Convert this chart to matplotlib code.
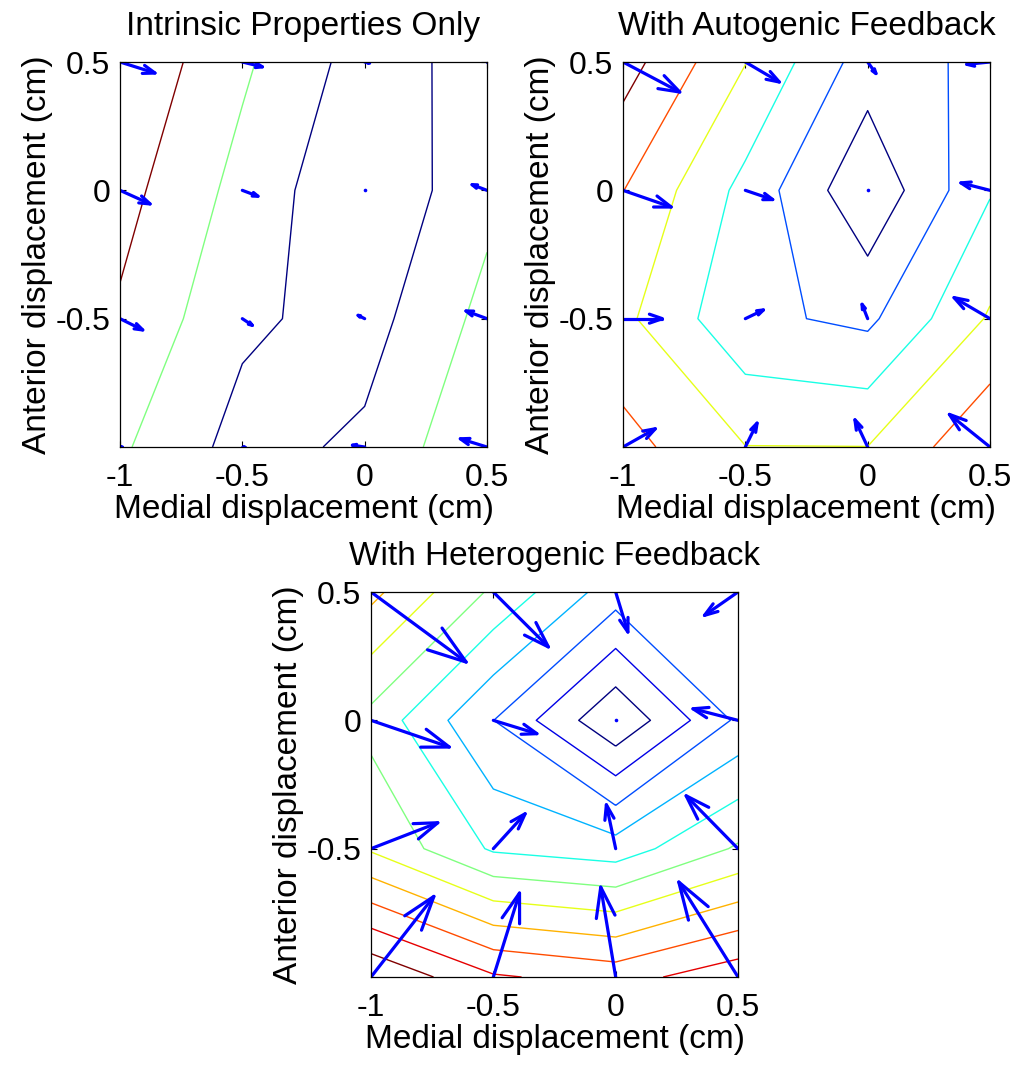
import numpy as np
import matplotlib
matplotlib.use('Agg')
import matplotlib.pyplot as plt

plt.rcParams['font.family'] = ['Liberation Sans', 'DejaVu Sans']

# grid of positions (cm)
xs = [-1.0, -0.5, 0.0, 0.5]
ys = [-1.0, -0.5, 0.0, 0.5]

x_ticks = [-1.0, -0.5, 0.0, 0.5]
x_labels = ['-1', '-0.5', '0', '0.5']
y_ticks = [-0.5, 0.0, 0.5]
y_labels = ['-0.5', '0', '0.5']

titles = ['Intrinsic Properties Only', 'With Autogenic Feedback', 'With Heterogenic Feedback']

# potential field (rows: y = -1 .. 0.5, cols: x = -1 .. 0.5), in contour-level units
z_intrinsic = [[2.15, 0.63, 1.19, 2.88],
               [2.86, 1.20, 0.59, 2.30],
               [3.36, 1.67, 0.11, 1.72],
               [3.89, 2.17, 0.56, 1.36]]
z_autogenic = [[5.36, 4.02, 4.01, 5.85],
               [4.23, 2.22, 1.78, 4.12],
               [5.02, 2.69, 0.18, 2.92],
               [6.45, 4.03, 1.50, 2.26]]
z_heterogenic = [[11.92, 10.12, 9.60, 10.63],
                 [6.87, 4.86, 4.46, 6.13],
                 [5.68, 3.01, 0.13, 3.19],
                 [8.27, 5.82, 3.47, 3.70]]

levels_intrinsic = [1, 2, 3]
levels_autogenic = [1, 2, 3, 4, 5, 6]
levels_heterogenic = [1, 2, 3, 4, 5, 6, 7, 8, 9, 10, 11]

# force vectors (as drawn)
u_intrinsic = [[0.010, 0.010, -0.050, -0.109],
               [0.093, 0.041, -0.027, -0.086],
               [0.123, 0.064, 0.000, -0.061],
               [0.143, 0.082, 0.020, 0.005]]
v_intrinsic = [[0.000, 0.000, 0.007, 0.032],
               [-0.044, -0.026, 0.013, 0.030],
               [-0.053, -0.023, 0.000, 0.022],
               [-0.043, -0.019, -0.004, 0.000]]

u_autogenic = [[0.132, 0.048, -0.052, -0.166],
               [0.161, 0.074, -0.023, -0.147],
               [0.197, 0.112, 0.000, -0.119],
               [0.232, 0.139, 0.034, -0.095]]
v_autogenic = [[0.071, 0.093, 0.106, 0.127],
               [0.000, 0.034, 0.056, 0.082],
               [-0.065, -0.036, 0.000, 0.029],
               [-0.117, -0.078, -0.045, -0.009]]

u_heterogenic = [[0.257, 0.107, -0.061, -0.242],
                 [0.273, 0.130, -0.038, -0.212],
                 [0.320, 0.178, 0.000, -0.184],
                 [0.389, 0.225, 0.050, -0.137]]
v_heterogenic = [[0.314, 0.327, 0.350, 0.370],
                 [0.101, 0.136, 0.171, 0.206],
                 [-0.104, -0.052, 0.000, 0.045],
                 [-0.273, -0.214, -0.156, -0.091]]


def matlab_jet(n):
    t = np.linspace(0, 1, n)
    r = np.clip(1.5 - np.abs(4 * t - 3), 0, 1)
    g = np.clip(1.5 - np.abs(4 * t - 2), 0, 1)
    b = np.clip(1.5 - np.abs(4 * t - 1), 0, 1)
    return np.column_stack([r, g, b])


def draw_arrows(ax, X, Y, U, V):
    # matlab-style quiver heads
    a = 0.33
    b = 0.33
    for x0, y0, u, v in zip(X.ravel(), Y.ravel(), np.ravel(U), np.ravel(V)):
        if u == 0 and v == 0:
            ax.plot(x0, y0, 'o', color='blue', ms=2.6, mec='none')
            continue
        tx, ty = x0 + u, y0 + v
        ax.plot([x0, tx], [y0, ty], color='blue', lw=2.3, solid_capstyle='round')
        ax.plot([tx - a * (u + b * v), tx, tx - a * (u - b * v)],
                [ty - a * (v - b * u), ty, ty - a * (v + b * u)],
                color='blue', lw=2.3, solid_capstyle='round', solid_joinstyle='round')


fig = plt.figure(figsize=(10.21, 10.66), dpi=100)

w, h = 367 / 1021, 385 / 1066
boxes = [[120 / 1021, 1 - 447 / 1066, w, h],
         [623 / 1021, 1 - 447 / 1066, w, h],
         [371 / 1021, 1 - 977 / 1066, w, h]]

X, Y = np.meshgrid(xs, ys)
panels = [(z_intrinsic, levels_intrinsic, u_intrinsic, v_intrinsic),
          (z_autogenic, levels_autogenic, u_autogenic, v_autogenic),
          (z_heterogenic, levels_heterogenic, u_heterogenic, v_heterogenic)]

for box, title, (Z, lev, U, V) in zip(boxes, titles, panels):
    ax = fig.add_axes(box)
    cols = matlab_jet(len(lev))
    ax.contour(X, Y, np.array(Z), levels=lev, colors=cols, linewidths=1.0)
    draw_arrows(ax, X, Y, U, V)
    ax.set_xlim(-1, 0.5)
    ax.set_ylim(-1, 0.5)
    ax.set_xticks(x_ticks)
    ax.set_xticklabels(x_labels)
    ax.set_yticks(y_ticks)
    ax.set_yticklabels(y_labels)
    ax.tick_params(direction='in', length=4, width=0.8, top=True, right=True, labelsize=23)
    ax.tick_params(axis='x', pad=11.5)
    ax.tick_params(axis='y', pad=7)
    for s in ax.spines.values():
        s.set_linewidth(0.9)
    ax.set_title(title, fontsize=24, pad=19.4)
    ax.set_xlabel('Medial displacement (cm)', fontsize=24, labelpad=0.5)
    ax.set_ylabel('Anterior displacement (cm)', fontsize=24, labelpad=2)

fig.savefig('out.png', dpi=100)
